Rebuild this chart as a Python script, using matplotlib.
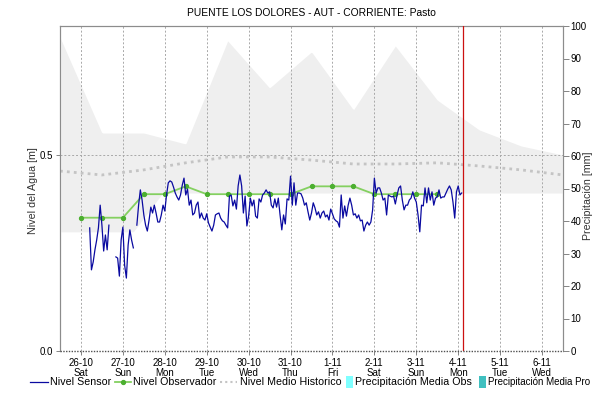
import matplotlib
matplotlib.use("Agg")
import matplotlib.pyplot as plt
import numpy as np
from matplotlib.lines import Line2D
from matplotlib.patches import Rectangle

plt.rcParams.update({"font.family": ["Liberation Sans", "DejaVu Sans"], "font.size": 7.5})

W, H = 594, 401

# time axis in days from 26-10 00:00
day_labels = ["26-10\nSat", "27-10\nSun", "28-10\nMon", "29-10\nTue", "30-10\nWed", "31-10\nThu",
              "1-11\nFri", "2-11\nSat", "3-11\nSun", "4-11\nMon", "5-11\nTue", "6-11\nWed"]

# historic band (daily, at noon) and mean historic level [m]
band_days = [-0.5, 0.5, 1.5, 2.5, 3.5, 4.5, 5.5, 6.5, 7.5, 8.5, 9.5, 10.5, 11.5]
band_max = [0.80, 0.556, 0.556, 0.528, 0.791, 0.671, 0.763, 0.615, 0.778, 0.640, 0.564, 0.523, 0.500]
band_min_days = [-0.5, 1.25, 1.95, 11.5]
band_min = [0.304, 0.304, 0.403, 0.403]
medio_hist = [0.459, 0.449, 0.462, 0.480, 0.495, 0.495, 0.487, 0.477, 0.477, 0.480, 0.472, 0.462, 0.449]

# observer readings, twice a day
obs_days = [0.0, 0.5, 1.0, 1.5, 2.0, 2.5, 3.0, 3.5, 4.0, 4.5, 5.0, 5.5, 6.0, 6.5, 7.0, 7.5, 8.0, 8.5]
obs_level = [0.34, 0.34, 0.34, 0.40, 0.40, 0.42, 0.40, 0.40, 0.40, 0.40, 0.40, 0.42, 0.42, 0.42,
             0.40, 0.40, 0.40, 0.40]

# hourly sensor level, first reading at hour 5 of 26-10 (nan = no data)
nan = np.nan
sensor_start_hour = 5
sensor_level = [
    0.314, 0.207, 0.227, 0.258, 0.283, 0.314, 0.372, 0.321, 0.255, 0.296, 0.258, 0.321,
    nan, nan, nan,
    0.240, 0.237, 0.191, 0.283, 0.316, 0.219, 0.186, 0.270, 0.309, 0.283, 0.263,
    nan,
    0.321, 0.372, 0.411, 0.385, 0.347, 0.321, 0.306,
    0.334, 0.367, 0.352, 0.372, 0.352, 0.329, 0.329, 0.347, 0.372, 0.357, 0.398, 0.429, 0.434,
    0.431, 0.418, 0.403, 0.393, 0.385, 0.398, 0.423, 0.441, 0.398, 0.413, 0.372, 0.385, 0.347,
    0.352, 0.372, 0.380, 0.339, 0.352, 0.339, 0.334, 0.350, 0.327, 0.316, 0.306,
    0.321, 0.347, 0.350, 0.352, 0.339, 0.332, 0.329, 0.321, 0.314, 0.395, 0.398, 0.370, 0.385,
    0.362, 0.421, 0.449, 0.421, 0.352, 0.395, 0.319, 0.344, 0.390, 0.370, 0.385, 0.344, 0.339,
    0.388, 0.380, 0.398, 0.403, 0.411, 0.403, 0.406, 0.372, 0.365, 0.388, 0.367,
    0.390, 0.347, 0.309, 0.347, 0.324, 0.388, 0.385, 0.446, 0.372, 0.429, 0.372, 0.403, 0.403,
    0.401, 0.390, 0.372, 0.378, 0.355, 0.334, 0.352, 0.378, 0.365, 0.347, 0.355, 0.339, 0.352,
    0.357, 0.342, 0.347, 0.334, 0.362, 0.350, 0.337, 0.332, 0.329, 0.316, 0.398,
    0.339, 0.370, 0.344, 0.372, 0.390, 0.372, 0.347, 0.350, 0.339, 0.347, 0.332, 0.334, 0.306,
    0.321, 0.329, 0.321, 0.329, 0.360, 0.441, 0.403, 0.416, 0.416, 0.403, 0.385, 0.390, 0.347,
    0.398, 0.395, 0.393, 0.395, 0.375, 0.398, 0.416, 0.421, 0.385, 0.360, 0.372,
    0.372, 0.385, 0.390, 0.406, 0.390, 0.380, 0.347, 0.304, 0.372, 0.370, 0.416, 0.378, 0.416,
    0.385, 0.406, 0.372, 0.390, 0.393, 0.411, 0.390, 0.393, 0.393, 0.403, 0.413, 0.421, 0.411,
    0.380, 0.339, 0.406, 0.421, 0.398, 0.403,
]
now_day = 9.12

sensor_days = (sensor_start_hour + np.arange(len(sensor_level))) / 24.0

BLUE, GREEN, GREEN_DOT, GREY_DOT = "#0a0aa0", "#84d060", "#4caf30", "#c4c4c4"


def fx(px):
    return px / W


def fy(py):
    return 1 - py / H


fig = plt.figure(figsize=(5.94, 4.01), dpi=100)
ax = fig.add_axes([fx(60), fy(351), 503 / W, 325 / H])
ax2 = ax.twinx()
ax.set_zorder(ax2.get_zorder() + 1)
ax.patch.set_visible(False)

# historic band
xb = np.linspace(-0.5, 11.5, 400)
ax.fill_between(xb, np.interp(xb, band_min_days, band_min), np.interp(xb, band_days, band_max),
                color="#efefef", lw=0, zorder=0)

# grid
for d in range(12):
    ax.axvline(d, color="#a8a8a8", lw=0.7, ls=(0, (2, 2)), zorder=1)
ax.axhline(0.5, color="#a8a8a8", lw=0.7, ls=(0, (2, 2)), zorder=1)

ax.plot(band_days, medio_hist, color=GREY_DOT, lw=2, ls=(0, (1, 1.5)), zorder=2)
ax.plot(obs_days, obs_level, color=GREEN, lw=1.3, marker="o", ms=2.8,
        mfc=GREEN_DOT, mec=GREEN_DOT, zorder=3)
ax.plot(sensor_days, sensor_level, color=BLUE, lw=0.9, zorder=4)
ax.axvline(now_day, color="#cc1111", lw=0.9, zorder=5)

ax.set_xlim(-0.5, 11.5)
ax.set_ylim(0, 0.829)
ax.set_xticks(range(12))
ax.set_xticklabels(day_labels, fontsize=7, linespacing=1.0)
ax.set_yticks([0.0, 0.5])
ax.set_yticklabels(["0.0", "0.5"], fontsize=7)
ax.tick_params(axis="both", length=3, width=0.6, color="#707070", pad=2)

ax2.set_ylim(0, 100)
ax2.set_yticks(range(0, 101, 10))
ax2.tick_params(axis="y", length=4, width=0.6, color="#707070", labelsize=7, pad=1.5)

for a in (ax, ax2):
    for s in ("top", "left", "right"):
        a.spines[s].set_color("#8c8c8c")
        a.spines[s].set_linewidth(0.8)
    a.spines["bottom"].set_visible(False)
ax.axhline(0, color="#505050", lw=1.0, ls=(0, (1, 1)), zorder=6, clip_on=False)

ax.set_title("PUENTE LOS DOLORES - AUT - CORRIENTE: Pasto", fontsize=7.4, pad=7)
fig.text(fx(33), fy(191), "Nivel del Agua [m]", rotation=90, ha="center", va="center",
         fontsize=7.7, color="#333333")
fig.text(fx(588), fy(196), "Precipitación [mm]", rotation=90, ha="center", va="center",
         fontsize=7.7, color="#333333")

# legend row along the bottom
ly = fy(382)
fig.add_artist(Line2D([fx(30), fx(48)], [ly, ly], color=BLUE, lw=0.9))
fig.text(fx(50), ly, "Nivel Sensor", va="center", fontsize=7.7)
fig.add_artist(Line2D([fx(115), fx(131)], [ly, ly], color=GREEN, lw=1.3))
fig.add_artist(Line2D([fx(123)], [ly], marker="o", ms=2.8, color=GREEN_DOT))
fig.text(fx(133), ly, "Nivel Observador", va="center", fontsize=7.7)
fig.add_artist(Line2D([fx(220), fx(237)], [ly, ly], color=GREY_DOT, lw=1.5, ls=(0, (1, 1.5))))
fig.text(fx(240), ly, "Nivel Medio Historico", va="center", fontsize=7.7)
fig.add_artist(Rectangle((fx(346), fy(388)), 7 / W, 12 / H, color="#7fffff", lw=0))
fig.text(fx(355), ly, "Precipitación Media Obs", va="center", fontsize=7.7)
fig.add_artist(Rectangle((fx(479), fy(388)), 7 / W, 12 / H, color="#40c0c0", lw=0))
fig.text(fx(488), ly, "Precipitación Media Pro", va="center", fontsize=7.0)

fig.savefig("out.png", dpi=100)
